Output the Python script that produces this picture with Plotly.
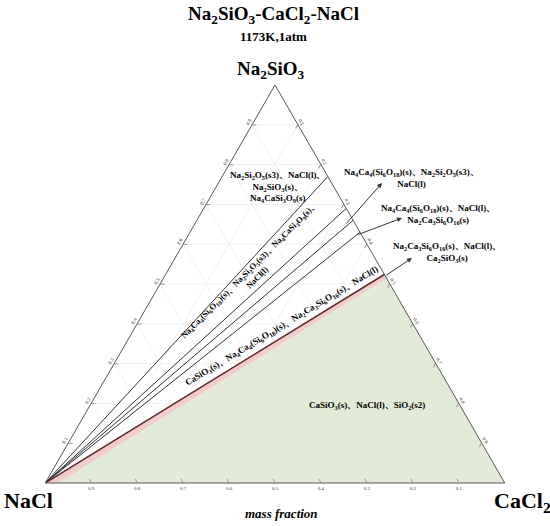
import plotly.graph_objects as go

# corner names (a = top, b = bottom left, c = bottom right)
top_name = "Na<sub>2</sub>SiO<sub>3</sub>"
left_name = "NaCl"
right_name = "CaCl<sub>2</sub>"

# tie lines run from the NaCl corner to the Na2SiO3-CaCl2 edge, value = CaCl2 fraction at the edge
tie_c = [0.23, 0.31, 0.34, 0.37]
boundary_c = 0.476      # dark red boundary line
green_edge_c = 0.486    # green field corner on the Na2SiO3-CaCl2 edge
green_base_c = 0.028    # green field corner on the NaCl-CaCl2 edge

tick_vals = [0.1, 0.2, 0.3, 0.4, 0.5, 0.6, 0.7, 0.8, 0.9]
tick_text = ["0.1", "0.2", "0.3", "0.4", "0.5", "0.6", "0.7", "0.8", "0.9"]

# field labels
top_field = "Na<sub>2</sub>Si<sub>2</sub>O<sub>5</sub>(s3)、NaCl(l)、<br>Na<sub>2</sub>SiO<sub>3</sub>(s)、<br>Na<sub>4</sub>CaSi<sub>3</sub>O<sub>9</sub>(s)"
band1 = ("Na<sub>4</sub>Ca<sub>4</sub>(Si<sub>6</sub>O<sub>18</sub>)(s)、Na<sub>2</sub>Si<sub>2</sub>O<sub>5</sub>(s3)、"
         "Na<sub>4</sub>CaSi<sub>3</sub>O<sub>9</sub>(s)、<br>NaCl(l)")
band2 = ("CaSiO<sub>3</sub>(s)、Na<sub>4</sub>Ca<sub>4</sub>(Si<sub>6</sub>O<sub>18</sub>)(s)、"
         "Na<sub>2</sub>Ca<sub>3</sub>Si<sub>6</sub>O<sub>16</sub>(s)、NaCl(l)")
green_field = "CaSiO<sub>3</sub>(s)、NaCl(l)、SiO<sub>2</sub>(s2)"
out1 = "Na<sub>4</sub>Ca<sub>4</sub>(Si<sub>6</sub>O<sub>18</sub>)(s)、Na<sub>2</sub>Si<sub>2</sub>O<sub>5</sub>(s3)、<br>NaCl(l)"
out2 = "Na<sub>4</sub>Ca<sub>4</sub>(Si<sub>6</sub>O<sub>18</sub>)(s)、NaCl(l)、<br>Na<sub>2</sub>Ca<sub>3</sub>Si<sub>6</sub>O<sub>16</sub>(s)"
out3 = "Na<sub>2</sub>Ca<sub>3</sub>Si<sub>6</sub>O<sub>16</sub>(s)、NaCl(l)、<br>Ca<sub>2</sub>SiO<sub>3</sub>(s)"

W, H = 550, 526
serif = "Liberation Serif"

fig = go.Figure()

# green field
fig.add_trace(go.Scatterternary(
    a=[0, 0, 1 - green_edge_c, 0], b=[1 - green_base_c, 0, 0, 1 - green_base_c],
    c=[green_base_c, 1, green_edge_c, green_base_c],
    mode="lines", fill="toself", fillcolor="#e2ebd6", line=dict(width=0), hoverinfo="skip"))
# pink strip
fig.add_trace(go.Scatterternary(
    a=[0, 0, 1 - green_edge_c, 1 - boundary_c, 0], b=[1, 1 - green_base_c, 0, 0, 1],
    c=[0, green_base_c, green_edge_c, boundary_c, 0],
    mode="lines", fill="toself", fillcolor="#f2cccc", line=dict(width=0), hoverinfo="skip"))

# tie lines
for c in tie_c:
    fig.add_trace(go.Scatterternary(a=[0, 1 - c], b=[1, 0], c=[0, c], mode="lines",
                                    line=dict(color="#333333", width=1), hoverinfo="skip"))
fig.add_trace(go.Scatterternary(a=[0, 1 - boundary_c], b=[1, 0], c=[0, boundary_c], mode="lines",
                                line=dict(color="#5e2b2b", width=1.6), hoverinfo="skip"))


def ax_style(angle):
    return dict(title=dict(text=""), tickmode="array", tickvals=tick_vals, ticktext=tick_text,
                tickfont=dict(size=5, family=serif, color="#333"), tickangle=angle,
                ticks="inside", ticklen=4, tickcolor="#999",
                linecolor="#555555", linewidth=1, showgrid=True, gridcolor="#f1f1f1", gridwidth=1)


x0, x1 = 45 / W, 505 / W
y0, y1 = (H - 483) / H, (H - 85) / H

fig.update_layout(
    width=W, height=H, margin=dict(l=0, r=0, t=0, b=0),
    paper_bgcolor="white", showlegend=False,
    font=dict(family=serif, color="black"),
    ternary=dict(sum=1, bgcolor="white", domain=dict(x=[x0, x1], y=[y0, y1]),
                 aaxis=ax_style(-60), baxis=ax_style(0), caxis=ax_style(60)),
)


def px(x, y):
    return x / W, 1 - y / H


def label(text, x, y, size, angle=0, italic=False):
    xp, yp = px(x, y)
    fig.add_annotation(x=xp, y=yp, xref="paper", yref="paper", text=text, showarrow=False,
                       textangle=angle, xanchor="center", yanchor="middle",
                       font=dict(size=size, family=serif, weight="bold",
                                 style="italic" if italic else "normal"))


def arrow(tail, head):
    xp, yp = px(*head)
    fig.add_annotation(x=xp, y=yp, xref="paper", yref="paper", text="", showarrow=True,
                       ax=tail[0] - head[0], ay=tail[1] - head[1],
                       arrowhead=2, arrowsize=1, arrowwidth=1, arrowcolor="#333333")


label("Na<sub>2</sub>SiO<sub>3</sub>-CaCl<sub>2</sub>-NaCl", 273, 15, 19)
label("1173K,1atm", 273, 37, 13)
label(top_name, 271, 70, 19)
label(left_name, 28, 500, 22)
label(right_name, 522, 502, 22)
label("mass fraction", 281, 513, 13, italic=True)

label(top_field, 278, 187, 9)
label(band1, 253, 273, 8.5, angle=-45)
label(band2, 281, 326, 9, angle=-31)
label(green_field, 367, 405, 9)
label(out1, 411, 178, 9)
label(out2, 438, 214, 9)
label(out3, 447, 253, 9)

arrow((345, 225), (382, 183))
arrow((357, 235), (402, 218))
arrow((385, 276), (412, 258))

# the page body has a default 8px margin; drop it so the figure fills the window
fig.write_html("out.html", config={"displayModeBar": False},
               post_script="document.body.style.margin='0';")
